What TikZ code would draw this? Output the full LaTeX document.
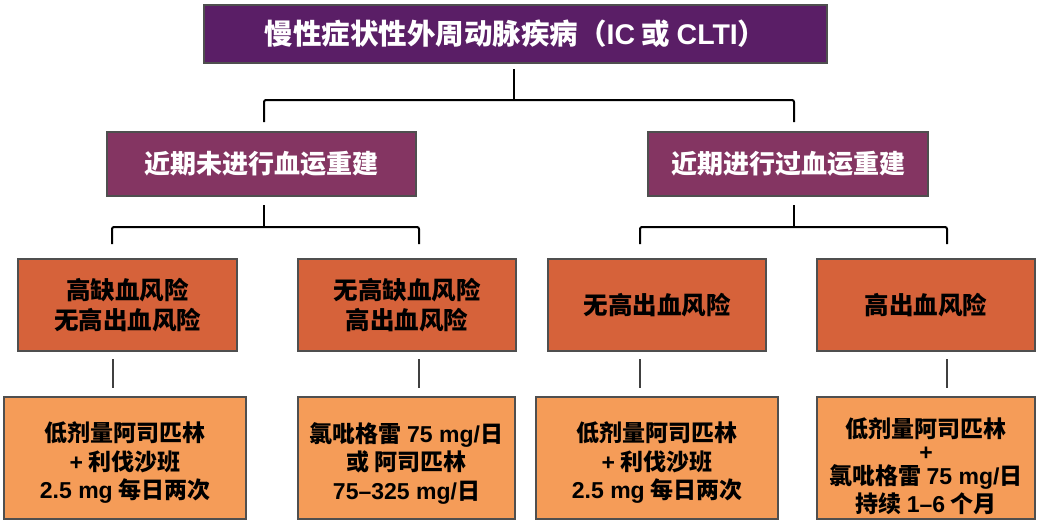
\documentclass[tikz,border=0pt]{standalone}
\usepackage{fontspec}
\setmainfont{Noto Sans CJK SC}
\newfontfamily\lat{Liberation Sans}
\definecolor{topc}{HTML}{5A1E66}
\definecolor{midc}{HTML}{843562}
\definecolor{riskc}{HTML}{D6623A}
\definecolor{treatc}{HTML}{F59C58}
\definecolor{edgec}{HTML}{4F4F4F}
\tikzset{
  box/.style={draw=edgec, line width=1.4pt, rectangle, align=center, inner sep=0pt, font=\bfseries},
  topbox/.style={box, fill=topc, text=white, minimum height=58pt, font=\bfseries\fontsize{28.5}{34}\selectfont},
  midbox/.style={box, fill=midc, text=white, minimum height=64pt, font=\bfseries\fontsize{26}{31}\selectfont},
  riskbox/.style={box, fill=riskc, text=black, minimum height=92pt, font=\bfseries\fontsize{24.5}{30}\selectfont},
  treatbox/.style={box, fill=treatc, minimum height=122pt},
  treattext/.style={align=center, inner sep=0pt, text=black, font=\bfseries\fontsize{23}{28.5}\selectfont},
  bracket/.style={draw=black, line width=2pt, rounded corners=2pt},
  tick/.style={draw=black!75, line width=1.6pt}
}
\begin{document}
\begin{tikzpicture}[x=1pt,y=-1pt]
\useasboundingbox[fill=white] (0,0) rectangle (1042,528);
% top
\node[topbox, minimum width=623pt] (top) at (515.5,34) {慢性症状性外周动脉疾病（{\lat IC} 或 {\lat CLTI}）};
% level 2
\node[midbox, minimum width=309pt] (mA) at (261.5,164) {\raisebox{0pt}{近期未进行血运重建}};
\node[midbox, minimum width=280pt] (mB) at (788,164) {近期进行过血运重建};
% level 3
\node[riskbox, minimum width=219pt] (r1) at (127.5,305) {高缺血风险\\无高出血风险};
\node[riskbox, minimum width=218pt] (r2) at (407,305) {无高缺血风险\\高出血风险};
\node[riskbox, minimum width=218pt] (r3) at (657,305) {无高出血风险};
\node[riskbox, minimum width=218pt] (r4) at (926,305) {高出血风险};
% level 4 boxes
\node[treatbox, minimum width=242pt] (t1) at (125,458) {};
\node[treatbox, minimum width=217pt] (t2) at (406.5,458) {};
\node[treatbox, minimum width=242pt] (t3) at (657,458) {};
\node[treatbox, minimum width=218pt] (t4) at (926,458) {};
% level 4 texts
\node[treattext] (t1t) at (125,463) {低剂量阿司匹林\\{\lat +} 利伐沙班\\{\lat 2.5 mg} 每日两次};
\node[treattext] (t2t) at (406.5,463) {氯吡格雷 {\lat 75 mg/}日\\或 阿司匹林\\{\lat 75–325 mg/}日};
\node[treattext] (t3t) at (657,463) {低剂量阿司匹林\\{\lat +} 利伐沙班\\{\lat 2.5 mg} 每日两次};
\node[treattext] (t4t) at (926,466) {低剂量阿司匹林\\[-6pt]{\lat +}\\[-4pt]氯吡格雷 {\lat 75 mg/}日\\[-1pt]持续 {\lat 1–6} 个月};
% connector coordinates
\coordinate (s0) at (514,69);
\coordinate (b0) at (514,100);
\coordinate (b0l) at (264,122);
\coordinate (b0r) at (794,122);
\coordinate (sA) at (264,205);
\coordinate (bA) at (264,227);
\coordinate (bAl) at (112,244);
\coordinate (bAr) at (419,244);
\coordinate (sB) at (794,205);
\coordinate (bB) at (794,227);
\coordinate (bBl) at (640,244);
\coordinate (bBr) at (947,244);
\coordinate (k1a) at (113,359); \coordinate (k1b) at (113,388);
\coordinate (k2a) at (419,359); \coordinate (k2b) at (419,388);
\coordinate (k3a) at (640,359); \coordinate (k3b) at (640,388);
\coordinate (k4a) at (947,359); \coordinate (k4b) at (947,388);
% brackets
\draw[bracket] (s0) -- (b0);
\draw[bracket] (b0l) |- (b0) -| (b0r);
\draw[bracket] (sA) -- (bA);
\draw[bracket] (bAl) |- (bA) -| (bAr);
\draw[bracket] (sB) -- (bB);
\draw[bracket] (bBl) |- (bB) -| (bBr);
% short links
\draw[tick] (k1a) -- (k1b);
\draw[tick] (k2a) -- (k2b);
\draw[tick] (k3a) -- (k3b);
\draw[tick] (k4a) -- (k4b);
\end{tikzpicture}
\end{document}
